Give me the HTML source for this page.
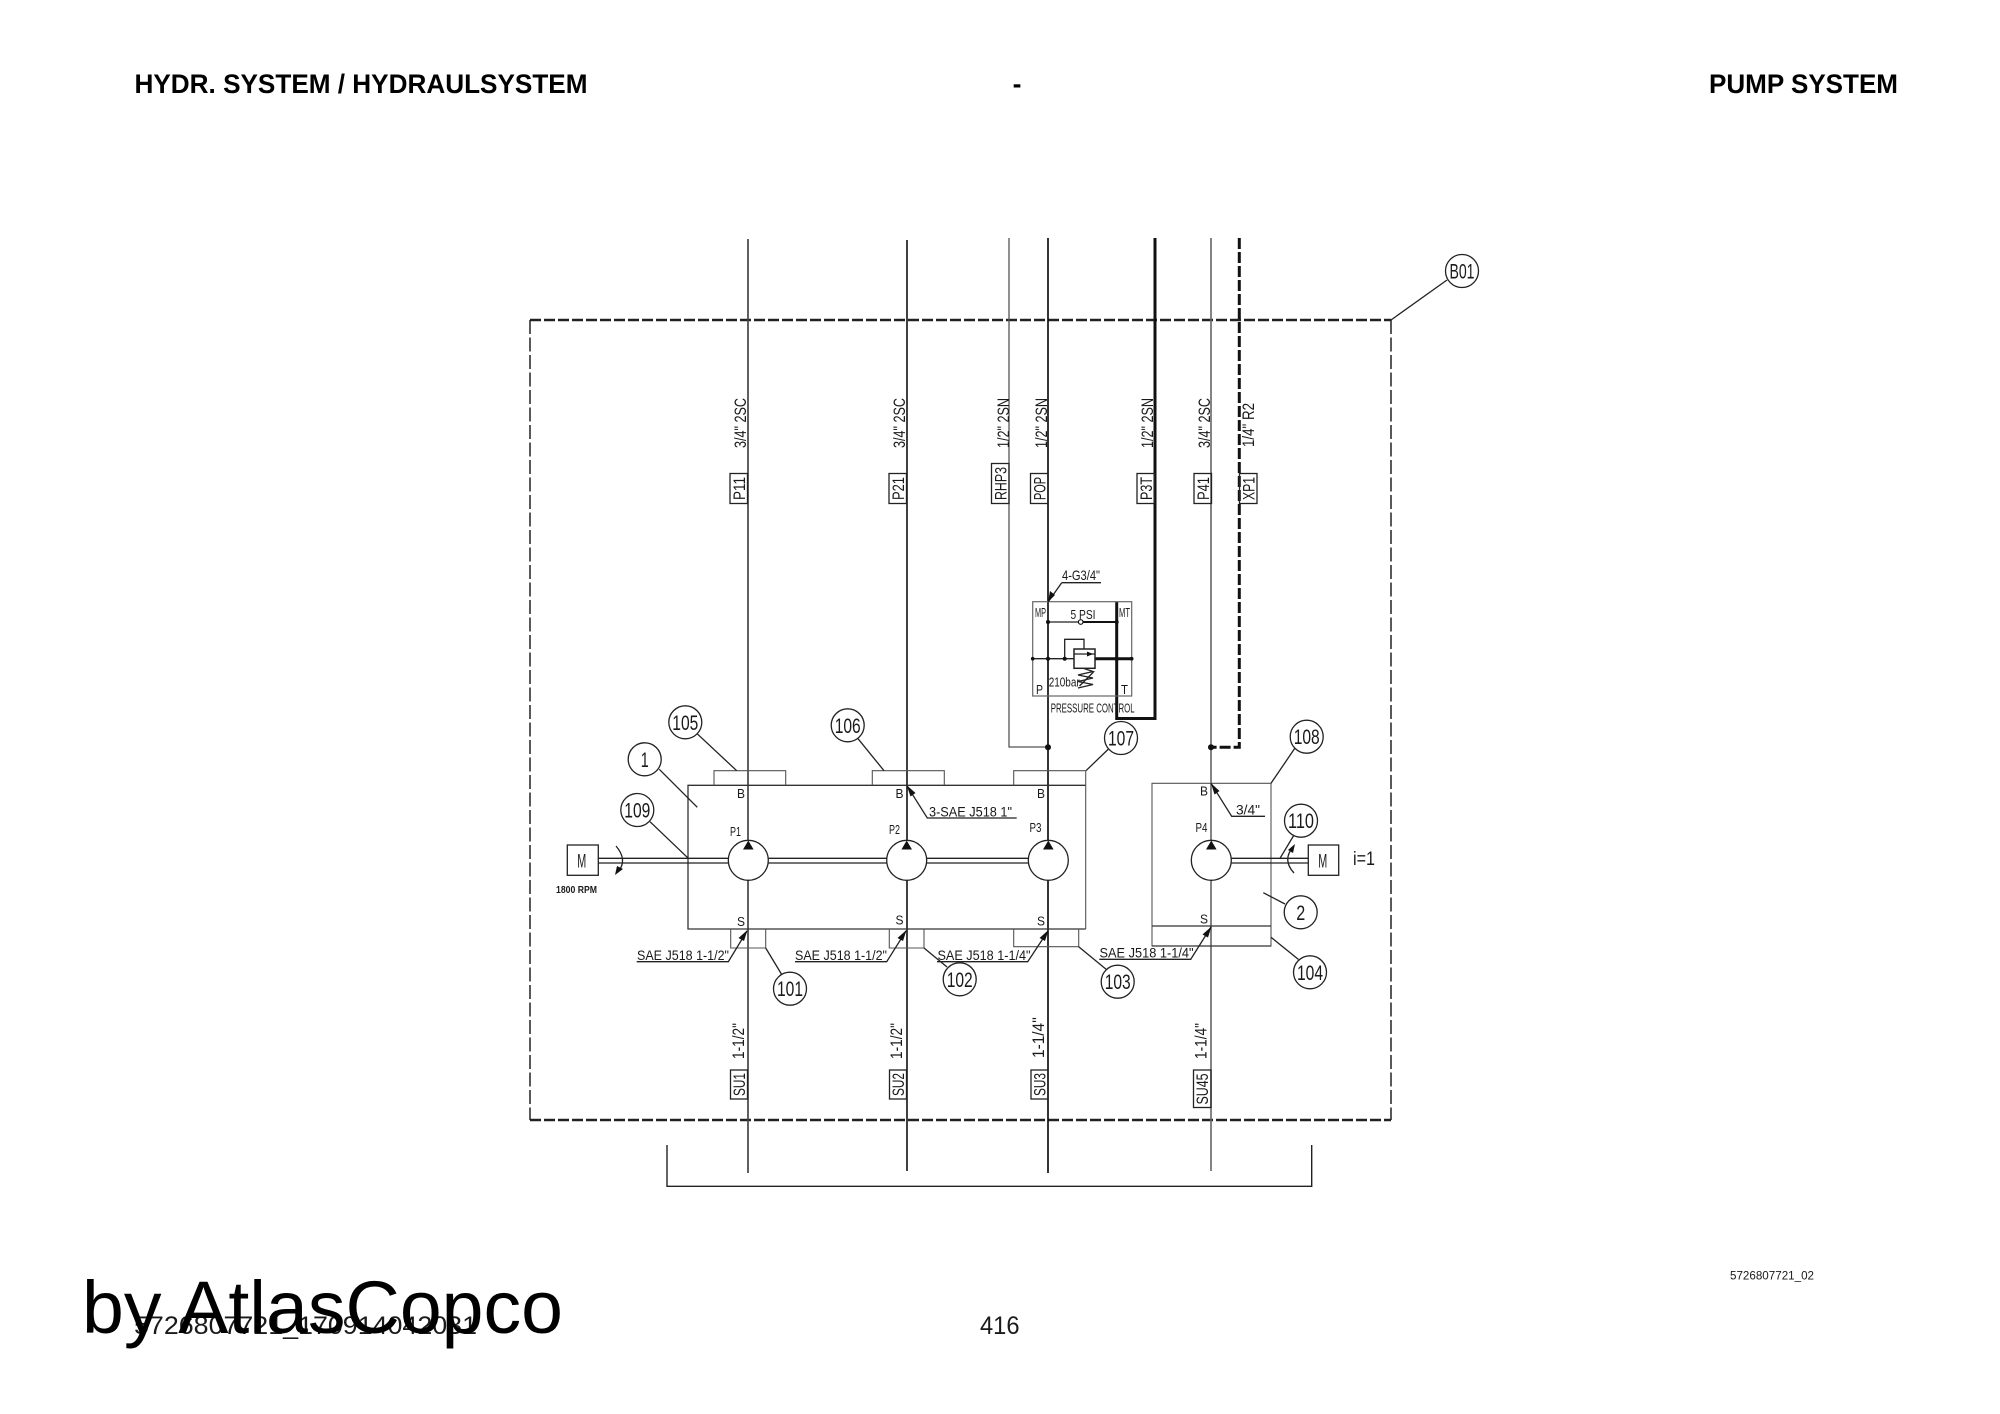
<!DOCTYPE html>
<html><head><meta charset="utf-8"><title>Pump system</title>
<style>
html,body{margin:0;padding:0;background:#fff}
svg{display:block}
text{font-family:"Liberation Sans",sans-serif;fill:#1a1a1a}
.l{fill:none;stroke:#222;stroke-width:1.3}
.g{fill:none;stroke:#555;stroke-width:1.1}
.t{fill:none;stroke:#111;stroke-width:2}
.x{fill:none;stroke:#111;stroke-width:3}
.c{fill:#fff;stroke:#222;stroke-width:1.3}
.d{fill:#111;stroke:none}
.s{font-size:13px}
.n{font-size:21px;text-anchor:middle}
.r{font-size:17px}
.u{font-size:14px}
</style></head><body>
<svg xmlns="http://www.w3.org/2000/svg" width="2000" height="1414" viewBox="0 0 2000 1414">
<rect width="2000" height="1414" fill="#fff"/>

<!-- header -->
<text x="134.5" y="93" font-size="26.5" font-weight="bold" textLength="453" lengthAdjust="spacingAndGlyphs" style="fill:#000">HYDR. SYSTEM / HYDRAULSYSTEM</text>
<text x="1017" y="93" font-size="26.5" font-weight="bold" text-anchor="middle" style="fill:#000">-</text>
<text x="1709" y="93" font-size="26.5" font-weight="bold" textLength="189" lengthAdjust="spacingAndGlyphs" style="fill:#000">PUMP SYSTEM</text>

<!-- outer dashed box -->
<path d="M530 320H1391" fill="none" stroke="#222" stroke-width="2.4" stroke-dasharray="11 3"/>
<path d="M530 1120H1391" fill="none" stroke="#222" stroke-width="2.4" stroke-dasharray="11 3"/>
<path d="M530 320V1120M1391 320V1120" fill="none" stroke="#222" stroke-width="1.5" stroke-dasharray="14 3.5"/>
<path class="l" d="M1391 320L1447 280"/>
<circle class="c" cx="1462" cy="271" r="16.5"/>
<text class="n" x="1462" y="278.5" textLength="25" lengthAdjust="spacingAndGlyphs">B01</text>

<!-- vertical lines -->
<path d="M748 239V1173" fill="none" stroke="#444" stroke-width="1.7"/>
<path d="M907 240V1171" fill="none" stroke="#111" stroke-width="1.6"/>
<path d="M1009 238V747H1048" fill="none" stroke="#555" stroke-width="1.3"/>
<path d="M1048 238V1173" fill="none" stroke="#111" stroke-width="1.7"/>
<path d="M1155 238V718.5H1116.7V601.7" class="x"/>
<path d="M1211 238V1171" fill="none" stroke="#666" stroke-width="1.6"/>
<path d="M1239.3 238V747.3H1211" fill="none" stroke="#111" stroke-width="3" stroke-dasharray="11 3"/>
<circle class="d" cx="1048" cy="747.3" r="3"/>
<circle class="d" cx="1211" cy="747.3" r="3"/>

<!-- top rotated labels -->
<text class="r" transform="translate(746,448) rotate(-90)" textLength="50" lengthAdjust="spacingAndGlyphs">3/4" 2SC</text>
<text class="r" transform="translate(905,448) rotate(-90)" textLength="50" lengthAdjust="spacingAndGlyphs">3/4" 2SC</text>
<text class="r" transform="translate(1009,448) rotate(-90)" textLength="50" lengthAdjust="spacingAndGlyphs">1/2" 2SN</text>
<text class="r" transform="translate(1047,448) rotate(-90)" textLength="50" lengthAdjust="spacingAndGlyphs">1/2" 2SN</text>
<text class="r" transform="translate(1153,448) rotate(-90)" textLength="50" lengthAdjust="spacingAndGlyphs">1/2" 2SN</text>
<text class="r" transform="translate(1210,448) rotate(-90)" textLength="50" lengthAdjust="spacingAndGlyphs">3/4" 2SC</text>
<text class="r" transform="translate(1254,447) rotate(-90)" textLength="44" lengthAdjust="spacingAndGlyphs">1/4" R2</text>

<g>
<rect class="l" x="730" y="473.5" width="17.5" height="30"/>
<text class="r" transform="translate(745,500) rotate(-90)" textLength="23" lengthAdjust="spacingAndGlyphs">P11</text>
<rect class="l" x="889" y="473.5" width="17.5" height="30"/>
<text class="r" transform="translate(904,500) rotate(-90)" textLength="23" lengthAdjust="spacingAndGlyphs">P21</text>
<rect class="l" x="991.5" y="463.5" width="17.5" height="40"/>
<text class="r" transform="translate(1006.5,500) rotate(-90)" textLength="33" lengthAdjust="spacingAndGlyphs">RHP3</text>
<rect class="l" x="1030.5" y="473.5" width="17.5" height="30"/>
<text class="r" transform="translate(1045.5,500) rotate(-90)" textLength="23" lengthAdjust="spacingAndGlyphs">POP</text>
<rect class="l" x="1137" y="473.5" width="17.5" height="30"/>
<text class="r" transform="translate(1152,500) rotate(-90)" textLength="23" lengthAdjust="spacingAndGlyphs">P3T</text>
<rect class="l" x="1194" y="473.5" width="17.5" height="30"/>
<text class="r" transform="translate(1209,500) rotate(-90)" textLength="23" lengthAdjust="spacingAndGlyphs">P41</text>
<rect class="l" x="1239.5" y="473.5" width="17.5" height="30"/>
<text class="r" transform="translate(1254.5,500) rotate(-90)" textLength="23" lengthAdjust="spacingAndGlyphs">XP1</text>
</g>

<!-- pressure control -->
<rect x="1032.7" y="601.7" width="99" height="94.3" fill="none" stroke="#666" stroke-width="1.2"/>
<path class="l" d="M1061.7 582.7H1101M1061.7 582.7L1048.3 601.7"/>
<path class="d" d="M1048 602L1050 591L1055 595Z"/>
<text class="u" x="1062" y="580" textLength="38" lengthAdjust="spacingAndGlyphs">4-G3/4"</text>
<text class="s" x="1035" y="617" textLength="11" lengthAdjust="spacingAndGlyphs">MP</text>
<text class="s" x="1119" y="617" textLength="11" lengthAdjust="spacingAndGlyphs">MT</text>
<text class="s" x="1070.5" y="619" textLength="25" lengthAdjust="spacingAndGlyphs">5 PSI</text>
<text class="s" x="1036" y="694" textLength="7" lengthAdjust="spacingAndGlyphs">P</text>
<text class="s" x="1121" y="694" textLength="7" lengthAdjust="spacingAndGlyphs">T</text>
<text class="s" x="1048.7" y="686.5" textLength="31" lengthAdjust="spacingAndGlyphs">210bar</text>
<text class="s" x="1050.7" y="712.5" textLength="84" lengthAdjust="spacingAndGlyphs">PRESSURE CONTROL</text>
<path class="l" d="M1048 622H1078"/>
<path class="t" d="M1083 622H1116.7"/>
<circle cx="1080.7" cy="622" r="2.3" fill="#fff" stroke="#111" stroke-width="1.2"/>
<path class="l" d="M1032.7 658.7H1074"/>
<path class="x" d="M1095 658.7H1131.7"/>
<rect class="l" x="1074" y="649" width="21" height="19.3" style="fill:#fff;stroke-width:1.5"/>
<path class="l" d="M1074 654H1095M1064.7 658.7V639.3H1084V649"/>
<path class="d" d="M1093 654L1087 651.5V656.5Z"/>
<path class="l" d="M1084 668.5L1093 671.5L1078 675L1093 678L1078 681.5L1093 684.5L1078 688"/>
<path class="l" d="M1079.5 686L1093.5 672"/>
<circle class="d" cx="1048" cy="622" r="2"/>
<circle class="d" cx="1116.7" cy="622" r="2"/>
<circle class="d" cx="1048" cy="658.7" r="2"/>
<circle class="d" cx="1064.7" cy="658.7" r="2"/>
<circle class="d" cx="1116.7" cy="658.7" r="2"/>
<circle class="d" cx="1032.7" cy="658.7" r="1.8"/>
<circle class="d" cx="1131.7" cy="658.7" r="1.8"/>

<!-- main body -->
<path fill="none" stroke="#333" stroke-width="1.3" d="M1085.7 785.3H688V929H1085.7"/>
<path class="g" d="M1085.7 770.7V929"/>
<path class="g" d="M714 785.3V770.7H785.7V785.3M872.3 785.3V770.7H944.3V785.3M1013.7 785.3V770.7H1085.7"/>
<path class="g" d="M730.7 929V948H765.7V929M889.3 929V948H924V929M1013.7 929V946.7H1078.7V929"/>

<!-- right body -->
<path class="g" d="M1152 783.3H1271V946H1152Z"/>
<path fill="none" stroke="#333" stroke-width="1.2" d="M1152 926H1271M1152 946H1271"/>

<!-- shafts -->
<path class="l" d="M598.3 858.3H1028.3M598.3 863H1028.3M1231.3 858.3H1308.3M1231.3 863H1308.3"/>

<!-- pumps -->
<g>
<circle class="c" cx="748.3" cy="860.3" r="20"/>
<circle class="c" cx="906.7" cy="860.3" r="20"/>
<circle class="c" cx="1048.3" cy="860.3" r="20"/>
<circle class="c" cx="1211.3" cy="860.3" r="20"/>
<path class="d" d="M748.3 840.5L743 849.5H753.6ZM906.7 840.5L901.4 849.5H912ZM1048.3 840.5L1043 849.5H1053.6ZM1211.3 840.5L1206 849.5H1216.6Z"/>
</g>

<!-- pump labels -->
<text class="s" x="737" y="798" textLength="8" lengthAdjust="spacingAndGlyphs">B</text>
<text class="s" x="737" y="926" textLength="8" lengthAdjust="spacingAndGlyphs">S</text>
<text class="s" x="730" y="836" textLength="11" lengthAdjust="spacingAndGlyphs">P1</text>
<text class="s" x="895.5" y="798" textLength="8" lengthAdjust="spacingAndGlyphs">B</text>
<text class="s" x="895.5" y="924.5" textLength="8" lengthAdjust="spacingAndGlyphs">S</text>
<text class="s" x="889" y="834" textLength="11" lengthAdjust="spacingAndGlyphs">P2</text>
<text class="s" x="1037" y="798" textLength="8" lengthAdjust="spacingAndGlyphs">B</text>
<text class="s" x="1037" y="925.5" textLength="8" lengthAdjust="spacingAndGlyphs">S</text>
<text class="s" x="1029.5" y="832" textLength="12" lengthAdjust="spacingAndGlyphs">P3</text>
<text class="s" x="1200" y="795.5" textLength="8" lengthAdjust="spacingAndGlyphs">B</text>
<text class="s" x="1200" y="923.5" textLength="8" lengthAdjust="spacingAndGlyphs">S</text>
<text class="s" x="1195.5" y="832" textLength="12" lengthAdjust="spacingAndGlyphs">P4</text>

<!-- motors -->
<rect class="c" x="567.3" y="845" width="31" height="30.3"/>
<text class="n" x="581.7" y="867.5" style="font-size:19px" textLength="9" lengthAdjust="spacingAndGlyphs">M</text>
<text x="556" y="893" font-size="10.5" font-weight="bold" textLength="41" lengthAdjust="spacingAndGlyphs">1800 RPM</text>
<path class="l" d="M616 846Q628 860 618 872"/>
<path class="d" d="M615 875L617 866L623 869Z"/>
<rect class="c" x="1308.3" y="845" width="30.4" height="30.3"/>
<text class="n" x="1322.7" y="867.5" style="font-size:19px" textLength="9" lengthAdjust="spacingAndGlyphs">M</text>
<text x="1353" y="865" font-size="19" textLength="22" lengthAdjust="spacingAndGlyphs">i=1</text>
<path class="l" d="M1294 873Q1282 860 1293 847"/>
<path class="d" d="M1295 844L1293 853L1288 850Z"/>

<!-- leaders with text -->
<path class="l" d="M636.7 961.7H728.3L747 931"/>
<path class="d" d="M747.5 930L744 941L738.5 938Z"/>
<text class="u" x="637" y="960" textLength="92" lengthAdjust="spacingAndGlyphs">SAE J518 1-1/2"</text>
<path class="l" d="M795 961.7H886.7L906 931"/>
<path class="d" d="M906.5 930L903 941L897.5 938Z"/>
<text class="u" x="795" y="960" textLength="92" lengthAdjust="spacingAndGlyphs">SAE J518 1-1/2"</text>
<path class="l" d="M937 961.7H1027.7L1048 931"/>
<path class="d" d="M1048.5 930L1045 941L1039.5 938Z"/>
<text class="u" x="937.5" y="960" textLength="93" lengthAdjust="spacingAndGlyphs">SAE J518 1-1/4"</text>
<path class="l" d="M1099.3 959.3H1190.7L1211 927"/>
<path class="d" d="M1211.5 926.5L1208 937.5L1202.5 934.5Z"/>
<text class="u" x="1099.5" y="957.5" textLength="94" lengthAdjust="spacingAndGlyphs">SAE J518 1-1/4"</text>
<path class="l" d="M906.7 785.3L927.3 818H1016.7"/>
<path class="d" d="M906.7 785.3L915.5 793L910.5 796.5Z"/>
<text class="u" x="929" y="816.5" textLength="83" lengthAdjust="spacingAndGlyphs">3-SAE J518 1"</text>
<path class="l" d="M1211 783.3L1231.7 816.3H1265"/>
<path class="d" d="M1211 783.3L1219.5 791L1214.5 794.5Z"/>
<circle class="d" cx="1215.7" cy="790.7" r="2"/>
<text class="u" x="1236" y="814.5" textLength="24" lengthAdjust="spacingAndGlyphs">3/4"</text>

<!-- callouts -->
<g>
<path class="l" d="M696.7 733.3L736.7 770.7"/><circle class="c" cx="685.3" cy="722.3" r="16.5"/><text class="n" x="685.3" y="729.8" textLength="26" lengthAdjust="spacingAndGlyphs">105</text>
<path class="l" d="M857.7 738.3L884 770.7"/><circle class="c" cx="847.7" cy="725.3" r="16.5"/><text class="n" x="847.7" y="732.8" textLength="26" lengthAdjust="spacingAndGlyphs">106</text>
<path class="l" d="M1086 770.7L1108.5 749"/><circle class="c" cx="1121" cy="738" r="16.5"/><text class="n" x="1121" y="745.5" textLength="26" lengthAdjust="spacingAndGlyphs">107</text>
<path class="l" d="M1271 783.3L1295 748"/><circle class="c" cx="1306.7" cy="736.7" r="16.5"/><text class="n" x="1306.7" y="744.2" textLength="26" lengthAdjust="spacingAndGlyphs">108</text>
<path class="l" d="M659.3 769.3L697.3 807.3"/><circle class="c" cx="644.7" cy="759.3" r="16.5"/><text class="n" x="644.7" y="766.8" textLength="8" lengthAdjust="spacingAndGlyphs">1</text>
<path class="l" d="M650 821.7L688.3 858.3"/><circle class="c" cx="637.3" cy="810" r="16.5"/><text class="n" x="637.3" y="817.5" textLength="26" lengthAdjust="spacingAndGlyphs">109</text>
<path class="l" d="M1280 858.3L1294 835"/><circle class="c" cx="1301" cy="820.7" r="16.5"/><text class="n" x="1301" y="828.2" textLength="26" lengthAdjust="spacingAndGlyphs">110</text>
<path class="l" d="M1263.3 892.7L1285 904"/><circle class="c" cx="1300.7" cy="912.3" r="16.5"/><text class="n" x="1300.7" y="919.8" textLength="9" lengthAdjust="spacingAndGlyphs">2</text>
<path class="l" d="M765.7 948L782 975"/><circle class="c" cx="790" cy="988.7" r="16.5"/><text class="n" x="790" y="996.2" textLength="26" lengthAdjust="spacingAndGlyphs">101</text>
<path class="l" d="M924 948L947 967"/><circle class="c" cx="959.7" cy="979.3" r="16.5"/><text class="n" x="959.7" y="986.8" textLength="26" lengthAdjust="spacingAndGlyphs">102</text>
<path class="l" d="M1078.7 946.7L1107 970"/><circle class="c" cx="1117.7" cy="981.7" r="16.5"/><text class="n" x="1117.7" y="989.2" textLength="26" lengthAdjust="spacingAndGlyphs">103</text>
<path class="l" d="M1271 937.3L1298.5 959.5"/><circle class="c" cx="1310" cy="972.3" r="16.5"/><text class="n" x="1310" y="979.8" textLength="26" lengthAdjust="spacingAndGlyphs">104</text>
</g>

<!-- bottom rotated labels -->
<text class="r" transform="translate(744,1059) rotate(-90)" textLength="36" lengthAdjust="spacingAndGlyphs">1-1/2"</text>
<text class="r" transform="translate(902,1059) rotate(-90)" textLength="36" lengthAdjust="spacingAndGlyphs">1-1/2"</text>
<text class="r" transform="translate(1044,1058) rotate(-90)" textLength="41" lengthAdjust="spacingAndGlyphs">1-1/4''</text>
<text class="r" transform="translate(1206.5,1059) rotate(-90)" textLength="36" lengthAdjust="spacingAndGlyphs">1-1/4"</text>
<rect class="l" x="730.5" y="1070" width="17" height="29"/>
<text class="r" transform="translate(745,1096) rotate(-90)" textLength="23" lengthAdjust="spacingAndGlyphs">SU1</text>
<rect class="l" x="889.5" y="1070" width="17" height="29"/>
<text class="r" transform="translate(904,1096) rotate(-90)" textLength="23" lengthAdjust="spacingAndGlyphs">SU2</text>
<rect class="l" x="1031" y="1070" width="17" height="29"/>
<text class="r" transform="translate(1045.5,1096) rotate(-90)" textLength="23" lengthAdjust="spacingAndGlyphs">SU3</text>
<rect class="l" x="1193.5" y="1070" width="17.5" height="37.5"/>
<text class="r" transform="translate(1208,1104.5) rotate(-90)" textLength="31" lengthAdjust="spacingAndGlyphs">SU45</text>

<!-- bracket -->
<path d="M667 1145V1186.3H1311.7V1145" fill="none" stroke="#222" stroke-width="1.4"/>

<!-- footer -->
<text x="134" y="1334" font-size="25" textLength="343" lengthAdjust="spacingAndGlyphs">5726807721_170914042031</text>
<text x="980" y="1334" font-size="25" textLength="39.5" lengthAdjust="spacingAndGlyphs">416</text>
<text x="1730" y="1279.5" font-size="12" textLength="84" lengthAdjust="spacingAndGlyphs">5726807721_02</text>
<text x="82" y="1333" font-size="74" textLength="481" lengthAdjust="spacingAndGlyphs" style="fill:#000">by AtlasCopco</text>
</svg>
</body></html>
